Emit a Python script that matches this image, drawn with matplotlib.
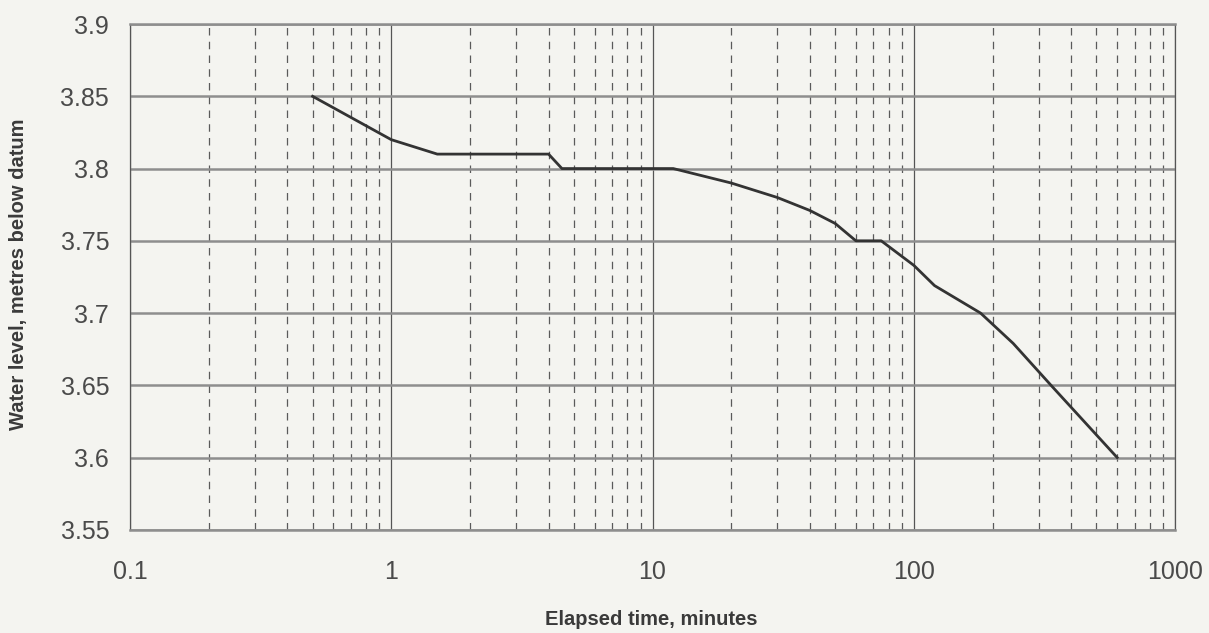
import matplotlib
matplotlib.use("Agg")
import matplotlib.pyplot as plt
from matplotlib.ticker import FixedLocator, NullFormatter, LogLocator

elapsed_min = [0.5, 1, 1.5, 4, 4.5, 12, 20, 30, 40, 50, 60, 75, 100, 120, 180, 240, 335, 600]
water_level = [3.85, 3.82, 3.81, 3.81, 3.80, 3.80, 3.79, 3.78, 3.771, 3.762, 3.75, 3.75,
               3.733, 3.719, 3.70, 3.679, 3.65, 3.60]
x_ticks = [0.1, 1, 10, 100, 1000]
x_tick_labels = ["0.1", "1", "10", "100", "1000"]
y_ticks = [3.55, 3.6, 3.65, 3.7, 3.75, 3.8, 3.85, 3.9]
y_tick_labels = ["3.55", "3.6", "3.65", "3.7", "3.75", "3.8", "3.85", "3.9"]

bg = "#f4f4f0"
fig = plt.figure(figsize=(12.09, 6.33), dpi=100, facecolor=bg)
ax = fig.add_axes([0.1075, 0.163, 0.8645, 0.799], facecolor=bg)

ax.set_xscale("log")
ax.set_xlim(0.1, 1000)
ax.set_ylim(3.55, 3.9)

ax.xaxis.set_major_locator(FixedLocator(x_ticks))
ax.set_xticklabels(x_tick_labels)
ax.xaxis.set_minor_locator(LogLocator(base=10, subs=range(2, 10)))
ax.xaxis.set_minor_formatter(NullFormatter())
ax.set_yticks(y_ticks)
ax.set_yticklabels(y_tick_labels)

ax.grid(axis="y", which="major", color="#8e8e8e", linewidth=1.8, linestyle="-")
ax.grid(axis="x", which="major", color="#555555", linewidth=0.9, linestyle="-")
ax.grid(axis="x", which="minor", color="#5a5a5a", linewidth=0.9, linestyle=(0, (6, 5)))
ax.set_axisbelow(True)

for s in ["left", "right"]:
    ax.spines[s].set_color("#555555")
    ax.spines[s].set_linewidth(0.9)
for s in ["top", "bottom"]:
    ax.spines[s].set_color("#8e8e8e")
    ax.spines[s].set_linewidth(1.8)

ax.tick_params(axis="both", which="both", length=0)
ax.tick_params(axis="x", pad=22)
ax.tick_params(axis="y", pad=15)
for lab in ax.get_xticklabels() + ax.get_yticklabels():
    lab.set_family(["Liberation Sans", "DejaVu Sans"])
    lab.set_fontsize(18)
    lab.set_color("#4a4a4a")

ax.plot(elapsed_min, water_level, color="#333333", linewidth=2.0, solid_joinstyle="round")

label_font = dict(family=["Liberation Sans", "DejaVu Sans"],
                  fontsize=14.5, fontweight="bold", color="#3a3a3a")
fig.text(0.539, 0.022, "Elapsed time, minutes", ha="center", va="center", **label_font)
fig.text(0.015, 0.566, "Water level, metres below datum", ha="center", va="center",
         rotation=90, **label_font)

fig.savefig("out.png", dpi=100, facecolor=bg)
